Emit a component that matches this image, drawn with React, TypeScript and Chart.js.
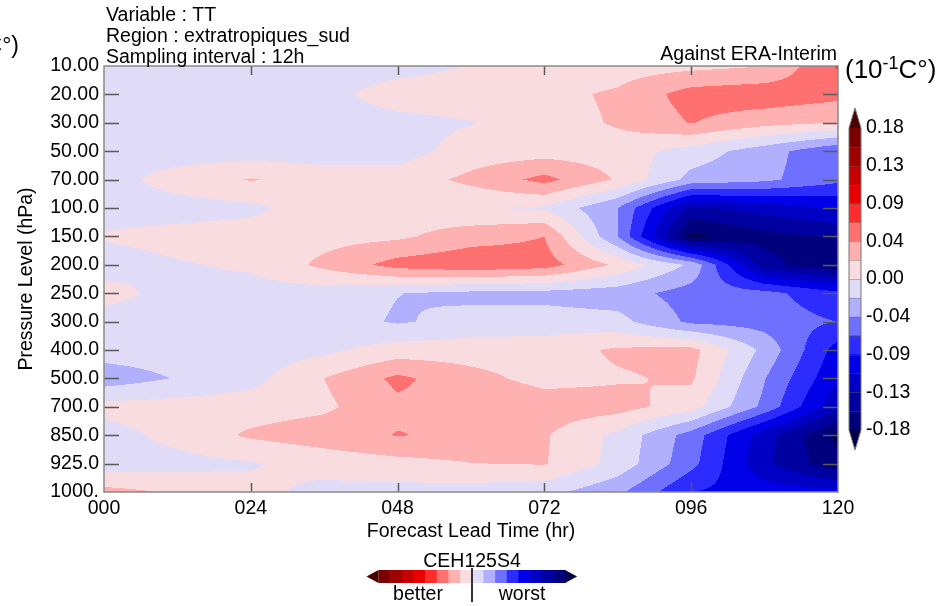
import React, { useEffect, useRef } from "react";
import { Chart, registerables } from "chart.js";

Chart.register(...registerables);

// ---------------- data ----------------
const leadTimes = [0, 12, 24, 36, 48, 60, 72, 84, 96, 108, 120];
const xTickValues = [0, 24, 48, 72, 96, 120];
const xTickLabels = ["000", "024", "048", "072", "096", "120"];
const pressureLabels = [
  "10.00", "20.00", "30.00", "50.00", "70.00", "100.0", "150.0", "200.0",
  "250.0", "300.0", "400.0", "500.0", "700.0", "850.0", "925.0", "1000.",
];

// TT score difference (10^-1 C) at each lead time, one list per pressure level
const p10 = [-0.012, -0.012, -0.012, -0.012, -0.01, 0.001, 0.008, 0.012, 0.016, 0.022, 0.07];
const p20 = [-0.012, -0.012, -0.012, -0.008, 0.012, 0.014, 0.016, 0.026, 0.055, 0.06, 0.052];
const p30 = [-0.012, -0.012, -0.012, -0.012, -0.008, -0.001, 0.012, 0.025, 0.046, 0.03, 0.022];
const p50 = [-0.012, -0.012, -0.012, -0.012, -0.01, 0.01, 0.012, 0.012, -0.01, -0.035, -0.065];
const p70 = [-0.01, 0.01, 0.024, 0.012, 0.01, 0.028, 0.052, 0.02, -0.03, -0.04, -0.062];
const p100 = [-0.01, -0.01, -0.005, 0.012, 0.012, 0.002, -0.003, -0.045, -0.14, -0.125, -0.11];
const p150 = [0.002, 0.008, 0.01, 0.014, 0.018, 0.035, 0.045, -0.045, -0.186, -0.165, -0.155];
const p200 = [-0.01, -0.002, 0.004, 0.028, 0.054, 0.062, 0.055, 0.018, -0.027, -0.15, -0.175];
const p250 = [0.008, -0.008, -0.01, -0.01, -0.022, -0.028, -0.03, -0.035, -0.055, -0.06, -0.085];
const p300 = [-0.01, -0.01, -0.01, -0.012, -0.025, -0.015, -0.012, -0.015, -0.05, -0.055, -0.068];
const p400 = [-0.012, -0.012, -0.012, -0.005, 0.01, 0.012, 0.012, 0.026, 0.03, -0.029, -0.1];
const p500 = [-0.035, -0.021, -0.008, 0.0225, 0.05, 0.03, 0.015, 0.02, 0.026, -0.044, -0.11];
const p700 = [0.008, 0.01, 0.012, 0.018, 0.04, 0.042, 0.035, 0.032, 0.01, -0.051, -0.13];
const p850 = [-0.01, 0.008, 0.026, 0.035, 0.046, 0.04, 0.025, -0.006, -0.055, -0.125, -0.185];
const p925 = [-0.012, -0.008, -0.002, 0.008, 0.015, 0.022, 0.024, -0.008, -0.06, -0.13, -0.175];
const p1000 = [0.03, 0.02, 0.006, -0.006, -0.008, -0.01, -0.015, -0.04, -0.09, -0.1, -0.105];

const levelRows = [p10, p20, p30, p50, p70, p100, p150, p200, p250, p300, p400, p500, p700, p850, p925, p1000];

const contourLevels = [
  -0.18, -0.1575, -0.135, -0.1125, -0.09, -0.0675, -0.045, -0.0225, 0,
  0.0225, 0.045, 0.0675, 0.09, 0.1125, 0.135, 0.1575, 0.18,
];
// colour below first level, between levels, above last level
const bandColors = [
  "#000048", "#00007c", "#0000a0", "#0000c4", "#0000e8", "#2c2cff", "#7070ff", "#b0b0ff", "#e0dcf8",
  "#f8dce0", "#ffb0b0", "#ff7070", "#ff2c2c", "#e80000", "#c40000", "#a00000", "#7c0000", "#480000",
];
const colorbarLabels = ["0.18", "0.13", "0.09", "0.04", "0.00", "-0.04", "-0.09", "-0.13", "-0.18"];

const FAMILY = '"Liberation Sans", Arial, Helvetica, sans-serif';
const FS = 19.5;

function hexToRgb(h: string) {
  const n = parseInt(h.slice(1), 16);
  return [(n >> 16) & 255, (n >> 8) & 255, n & 255];
}
function bandIndex(v: number) {
  let k = 0;
  while (k < contourLevels.length && v >= contourLevels[k]) k++;
  return k;
}

const contourPlugin = {
  id: "contourFill",
  beforeDatasetsDraw(chart: any) {
    const { ctx, chartArea: a, scales } = chart;
    const xs = leadTimes.map((t) => scales.x.getPixelForValue(t));
    const ys = pressureLabels.map((_, i) => scales.y.getPixelForValue(i));
    const left = Math.round(a.left), top = Math.round(a.top);
    const w = Math.round(a.right) - left, h = Math.round(a.bottom) - top;
    const off = document.createElement("canvas");
    off.width = w; off.height = h;
    const octx = off.getContext("2d")!;
    const img = octx.createImageData(w, h);
    const rgb = bandColors.map(hexToRgb);
    const nx = xs.length, ny = ys.length;
    for (let py = 0; py < h; py++) {
      const Y = top + py + 0.5;
      let r = 0;
      while (r < ny - 2 && ys[r + 1] <= Y) r++;
      let fy = (Y - ys[r]) / (ys[r + 1] - ys[r]);
      fy = Math.max(0, Math.min(1, fy));
      const row0 = levelRows[r], row1 = levelRows[r + 1];
      let c = 0;
      for (let px = 0; px < w; px++) {
        const X = left + px + 0.5;
        while (c < nx - 2 && xs[c + 1] <= X) c++;
        let fx = (X - xs[c]) / (xs[c + 1] - xs[c]);
        fx = Math.max(0, Math.min(1, fx));
        const v =
          row0[c] * (1 - fx) * (1 - fy) + row0[c + 1] * fx * (1 - fy) +
          row1[c] * (1 - fx) * fy + row1[c + 1] * fx * fy;
        const col = rgb[bandIndex(v)];
        const o = (py * w + px) * 4;
        img.data[o] = col[0]; img.data[o + 1] = col[1]; img.data[o + 2] = col[2]; img.data[o + 3] = 255;
      }
    }
    octx.putImageData(img, 0, 0);
    ctx.drawImage(off, left, top);
  },
  afterDatasetsDraw(chart: any) {
    const { ctx, chartArea: a, scales } = chart;
    ctx.save();
    // ticks
    ctx.strokeStyle = "#5a5a5a";
    ctx.lineWidth = 1.5;
    ctx.beginPath();
    pressureLabels.forEach((_, i) => {
      if (i === 0 || i === pressureLabels.length - 1) return;
      const y = Math.round(scales.y.getPixelForValue(i)) + 0.5;
      ctx.moveTo(a.left, y); ctx.lineTo(a.left + 15, y);
      ctx.moveTo(a.right, y); ctx.lineTo(a.right - 15, y);
    });
    xTickValues.forEach((t, i) => {
      if (i === 0 || i === xTickValues.length - 1) return;
      const x = Math.round(scales.x.getPixelForValue(t)) + 0.5;
      ctx.moveTo(x, a.top); ctx.lineTo(x, a.top + 9);
      ctx.moveTo(x, a.bottom); ctx.lineTo(x, a.bottom - 9);
    });
    ctx.stroke();
    // frame
    ctx.strokeStyle = "#8a8a8a";
    ctx.lineWidth = 1.5;
    ctx.strokeRect(a.left, a.top, a.right - a.left, a.bottom - a.top);
    ctx.restore();
  },
  afterDraw(chart: any) {
    const { ctx } = chart;
    ctx.save();
    ctx.fillStyle = "#000";
    ctx.textBaseline = "alphabetic";
    ctx.font = `${FS}px ${FAMILY}`;
    ctx.textAlign = "left";
    ctx.fillText("Variable : TT", 106, 21);
    ctx.fillText("Region : extratropiques_sud", 106, 42);
    ctx.fillText("Sampling interval : 12h", 106, 63);
    ctx.textAlign = "right";
    ctx.fillText("Against ERA-Interim", 837, 60);

    // unit labels
    const drawUnit = (x: number, base: number, big: number, small: number, alignRight: boolean) => {
      ctx.textAlign = "left";
      ctx.font = `${big}px ${FAMILY}`;
      const w1 = ctx.measureText("(10").width;
      const w3 = ctx.measureText("C\u00b0)").width;
      ctx.font = `${small}px ${FAMILY}`;
      const w2 = ctx.measureText("-1").width;
      const sx = alignRight ? x - (w1 + w2 + w3) : x;
      ctx.font = `${big}px ${FAMILY}`;
      ctx.fillText("(10", sx, base);
      ctx.font = `${small}px ${FAMILY}`;
      ctx.fillText("-1", sx + w1, base - big * 0.36);
      ctx.font = `${big}px ${FAMILY}`;
      ctx.fillText("C\u00b0)", sx + w1 + w2, base);
    };
    drawUnit(845, 78, 26, 18, false);
    drawUnit(19, 53, 23, 16, true);

    // vertical colour bar
    const cbX = 849, cbW = 12, cbTop = 128, cbBand = 18.875, n = 16;
    const cbBottom = cbTop + n * cbBand;
    for (let i = 0; i < n; i++) {
      ctx.fillStyle = bandColors[n - i];
      ctx.fillRect(cbX, cbTop + i * cbBand, cbW, cbBand + 0.6);
    }
    ctx.fillStyle = bandColors[n + 1];
    ctx.beginPath();
    ctx.moveTo(cbX, cbTop); ctx.lineTo(cbX + cbW, cbTop); ctx.lineTo(cbX + cbW / 2, cbTop - 20); ctx.closePath();
    ctx.fill();
    ctx.fillStyle = bandColors[0];
    ctx.beginPath();
    ctx.moveTo(cbX, cbBottom); ctx.lineTo(cbX + cbW, cbBottom); ctx.lineTo(cbX + cbW / 2, cbBottom + 20); ctx.closePath();
    ctx.fill();
    ctx.strokeStyle = "rgba(90,90,90,0.35)";
    ctx.lineWidth = 1;
    ctx.beginPath();
    for (let i = 1; i < n; i++) {
      const y = Math.round(cbTop + i * cbBand) + 0.5;
      ctx.moveTo(cbX, y); ctx.lineTo(cbX + cbW, y);
    }
    ctx.stroke();
    ctx.strokeStyle = "#777";
    ctx.beginPath();
    ctx.moveTo(cbX, cbTop); ctx.lineTo(cbX + cbW / 2, cbTop - 20); ctx.lineTo(cbX + cbW, cbTop);
    ctx.lineTo(cbX + cbW, cbBottom); ctx.lineTo(cbX + cbW / 2, cbBottom + 20); ctx.lineTo(cbX, cbBottom);
    ctx.closePath();
    ctx.stroke();
    ctx.fillStyle = "#000";
    ctx.font = `${FS}px ${FAMILY}`;
    ctx.textAlign = "left";
    ctx.textBaseline = "middle";
    colorbarLabels.forEach((lab, j) => {
      ctx.fillText(lab, 866, cbTop + j * 2 * cbBand);
    });

    // bottom legend
    ctx.textBaseline = "alphabetic";
    ctx.textAlign = "center";
    ctx.fillText("CEH125S4", 472, 567);
    const hx = 378.5, hy = 570, hw = 11.66, hh = 13;
    for (let i = 0; i < n; i++) {
      ctx.fillStyle = bandColors[n - i];
      ctx.fillRect(hx + i * hw, hy, hw + 0.6, hh);
    }
    const hEnd = hx + n * hw;
    ctx.fillStyle = bandColors[n + 1];
    ctx.beginPath();
    ctx.moveTo(hx, hy); ctx.lineTo(hx, hy + hh); ctx.lineTo(hx - 12, hy + hh / 2); ctx.closePath();
    ctx.fill();
    ctx.fillStyle = bandColors[0];
    ctx.beginPath();
    ctx.moveTo(hEnd, hy); ctx.lineTo(hEnd, hy + hh); ctx.lineTo(hEnd + 12, hy + hh / 2); ctx.closePath();
    ctx.fill();
    ctx.strokeStyle = "#333";
    ctx.lineWidth = 2;
    ctx.beginPath();
    ctx.moveTo(472, hy - 2); ctx.lineTo(472, 602);
    ctx.stroke();
    ctx.fillStyle = "#000";
    ctx.font = `${FS}px ${FAMILY}`;
    ctx.fillText("better", 418, 600);
    ctx.fillText("worst", 522, 600);
    ctx.restore();
  },
};

export default function App() {
  const ref = useRef<HTMLCanvasElement | null>(null);
  useEffect(() => {
    if (!ref.current) return;
    const font = { family: FAMILY, size: FS };
    const points: { x: number; y: number }[] = [];
    levelRows.forEach((row, i) => row.forEach((_, c) => points.push({ x: leadTimes[c], y: i })));
    const chart = new Chart(ref.current, {
      type: "scatter",
      data: { datasets: [{ data: points, pointRadius: 0, pointHoverRadius: 0, showLine: false }] },
      options: {
        animation: false,
        responsive: false,
        maintainAspectRatio: false,
        events: [],
        layout: { padding: { left: 0, top: 66, right: 113, bottom: 0 } },
        plugins: { legend: { display: false }, tooltip: { enabled: false }, title: { display: false } },
        scales: {
          x: {
            type: "linear",
            min: 0,
            max: 120,
            afterBuildTicks: (s: any) => { s.ticks = xTickValues.map((v) => ({ value: v })); },
            afterFit: (s: any) => { s.height = 114; },
            grid: { display: false, drawTicks: false },
            border: { display: false },
            ticks: {
              autoSkip: false,
              maxRotation: 0,
              padding: 5,
              color: "#000",
              font,
              callback: (_v: any, i: number) => xTickLabels[i],
            },
            title: { display: true, text: "Forecast Lead Time (hr)", color: "#000", font, padding: { top: 0, bottom: 63 } },
          },
          y: {
            type: "linear",
            min: 0,
            max: pressureLabels.length - 1,
            reverse: true,
            afterBuildTicks: (s: any) => { s.ticks = pressureLabels.map((_, i) => ({ value: i })); },
            afterFit: (s: any) => { s.width = 104; },
            grid: { display: false, drawTicks: false },
            border: { display: false },
            ticks: {
              autoSkip: false,
              padding: 5,
              color: "#000",
              font,
              callback: (_v: any, i: number) => pressureLabels[i],
            },
            title: { display: true, text: "Pressure Level (hPa)", color: "#000", font, padding: { top: 15, bottom: 0 } },
          },
        },
      } as any,
      plugins: [contourPlugin as any],
    });
    return () => chart.destroy();
  }, []);
  return (
    <div style={{ position: "absolute", left: 0, top: 0, width: 951, height: 606, background: "#fff" }}>
      <canvas ref={ref} width={951} height={606} style={{ display: "block" }} />
    </div>
  );
}
